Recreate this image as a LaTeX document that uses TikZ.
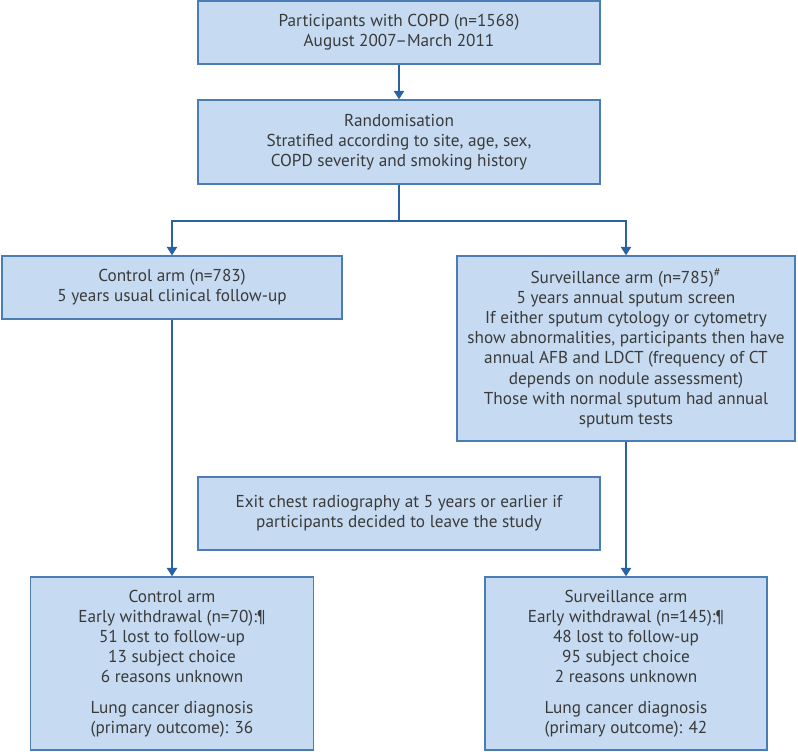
\documentclass[tikz,border=0pt]{standalone}
\usepackage{fontspec}
\setmainfont{PT Sans}
\usetikzlibrary{arrows.meta}
\definecolor{boxfill}{HTML}{C6DBF1}
\definecolor{boxline}{HTML}{4A7DB4}
\definecolor{arrowline}{HTML}{2A62A6}
\definecolor{boxtext}{HTML}{3A3A3A}
\tikzset{
  box/.style={draw=boxline, fill=boxfill, line width=0.03cm, align=center,
    text=boxtext, inner sep=0pt, font=\fontsize{9.8}{11.5}\selectfont},
  arr/.style={draw=arrowline, line width=0.03cm,
    -{Triangle[length=0.17cm,width=0.21cm]}},
}
\begin{document}
\begin{tikzpicture}[x=0.02cm,y=-0.02cm]
        \useasboundingbox (0,0) rectangle (798,751);
        
        % Participants box
        \node [box, minimum width=8.04cm, minimum height=1.26cm] (part) at (399,32.5)
          {Participants with COPD (n=1568)\\August 2007--March 2011};%
        
        % Randomisation box
        \node [box, minimum width=8.04cm, minimum height=1.68cm] (rand) at (399,142)
          {Randomisation\\Stratified according to site, age, sex,\\COPD severity and smoking history};%
        
        % Control arm box
        \node [box, minimum width=6.8cm, minimum height=1.26cm] (ctrl) at (172,287.5)
          {Control arm (n=783)\\5 years usual clinical follow-up};%
        
        % Surveillance arm box
        \node [box, minimum width=6.76cm, minimum height=3.7cm] (surv) at (626,348.5)
          {Surveillance arm (n=785)\textsuperscript{\#}\\5 years annual sputum screen\\
           If either sputum cytology or cytometry\\show abnormalities, participants then have\\
           annual AFB and LDCT (frequency of CT\\depends on nodule assessment)\\
           Those with normal sputum had annual\\sputum tests};%
        
        % Exit box
        \node [box, minimum width=8.04cm, minimum height=1.46cm] (exit) at (399,513.5)
          {Exit chest radiography at 5 years or earlier if\\participants decided to leave the study};%
        
        % Control arm outcome box
        \node [box, minimum width=5.66cm, minimum height=3.46cm] (ctrlout) at (172,663.5)
          {Control arm\\Early withdrawal (n=70):¶\\51 lost to follow-up\\13 subject choice\\
           6 reasons unknown\\[0.2cm]Lung cancer diagnosis\\(primary outcome): 36};%
        
        % Surveillance arm outcome box
        \node [box, minimum width=5.64cm, minimum height=3.46cm] (survout) at (626,663.5)
          {Surveillance arm\\Early withdrawal (n=145):¶\\48 lost to follow-up\\95 subject choice\\
           2 reasons unknown\\[0.2cm]Lung cancer diagnosis\\(primary outcome): 42};%
        
        % Drawing arrows
        \coordinate (split) at (399,221);
        \draw [arr] (part) -- (rand);%
        \draw [arr] (rand.south) -- (split) -| (ctrl.north);%
        \draw [arr] (split) -| (surv.north);%
        \draw [arr] (ctrl.south) -- (ctrlout.north);%
        \draw [arr] (surv.south) -- (survout.north);%
    \end{tikzpicture}
\end{document}
